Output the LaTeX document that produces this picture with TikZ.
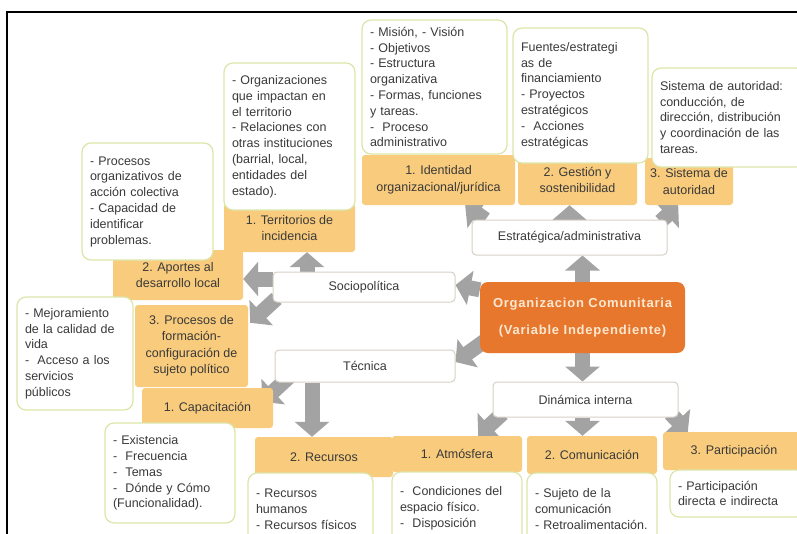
\documentclass[tikz,border=0pt]{standalone}
\usepackage{fontspec}
\setmainfont{Liberation Sans}
\usepackage{tikz}
\usetikzlibrary{arrows.meta}
\definecolor{notegreen}{HTML}{DCE5A8}
\definecolor{tagorange}{HTML}{F9CB7C}
\definecolor{coreorange}{HTML}{E8772E}
\definecolor{corecream}{HTML}{FCE8D0}
\definecolor{facetgray}{HTML}{D6D0C6}
\definecolor{arrowgray}{HTML}{A3A3A3}
\definecolor{inkgray}{HTML}{3A3A3A}
\pgfdeclarelayer{back}
\pgfsetlayers{back,main}
\tikzset{
notebox/.style={draw=notegreen,fill=white,line width=1.2pt,rounded corners=9pt,align=left,inner xsep=8pt,text=inkgray,font=\fontsize{12.5}{15.8}\selectfont},
tagbox/.style={fill=tagorange,rounded corners=3pt,align=center,inner sep=2pt,text=inkgray,font=\fontsize{12.5}{16.5}\selectfont},
facetbox/.style={draw=facetgray,fill=white,line width=1pt,rounded corners=4pt,text=inkgray,font=\fontsize{12.5}{15}\selectfont},
corebox/.style={fill=coreorange,rounded corners=8pt,align=center,text=corecream,font=\fontsize{13}{27}\selectfont\bfseries},
fatarrow/.style={draw=arrowgray,line width=15pt,-{Triangle[width=34pt,length=15pt]}}
}
\begin{document}
\begin{tikzpicture}[x=1pt,y=-1pt]
\useasboundingbox (0,0) rectangle (797,533);
\clip (0,0) rectangle (797,533);
\draw[line width=2.5pt] (7,540) -- (7,12) -- (800,12);

\node[tagbox,minimum width=131pt,minimum height=48pt] (terrTag) at (289.5,228) {1. Territorios de\\incidencia};
\node[tagbox,minimum width=153pt,minimum height=50pt] (idenTag) at (438.5,180) {1. Identidad\\organizacional/jurídica};
\node[tagbox,minimum width=119pt,minimum height=50pt] (gestTag) at (577.5,180) {2. Gestión y\\sostenibilidad};
\node[tagbox,minimum width=88pt,minimum height=47pt] (sistTag) at (689,181.5) {3. Sistema de\\autoridad};
\node[tagbox,minimum width=130pt,minimum height=50pt] (aporTag) at (178,275) {2. Aportes al\\desarrollo local};
\node[tagbox,minimum width=113pt,minimum height=82pt] (formTag) at (191.5,346) {3. Procesos de\\formación-\\configuración de\\sujeto político};
\node[tagbox,minimum width=131pt,minimum height=40pt] (capTag) at (207.5,408) {1. Capacitación};
\node[tagbox,minimum width=138pt,minimum height=40pt] (recTag) at (324,457) {2. Recursos};
\node[tagbox,minimum width=130pt,minimum height=36pt] (atmTag) at (457,454) {1. Atmósfera};
\node[tagbox,minimum width=130pt,minimum height=38pt] (comTag) at (592,455) {2. Comunicación};
\node[tagbox,minimum width=142pt,minimum height=38pt] (partTag) at (734,451) {3. Participación};

\node[notebox,minimum width=131pt,text width=115pt,minimum height=147pt] (terrNote) at (289.5,136.5) {- Organizaciones\\que impactan en\\el territorio\\- Relaciones con\\otras instituciones\\(barrial, local,\\entidades del\\estado).};
\node[notebox,minimum width=131pt,text width=115pt,minimum height=117pt] (procNote) at (147.5,201.5) {- Procesos\\organizativos de\\acción colectiva\\- Capacidad de\\identificar\\problemas.};
\node[notebox,minimum width=145pt,text width=129pt,minimum height=134pt] (idenNote) at (434.5,87) {- Misión, - Visión\\- Objetivos\\- Estructura\\organizativa\\- Formas, funciones\\y tareas.\\-\ \ Proceso\\administrativo};
\node[notebox,minimum width=135pt,text width=119pt,minimum height=135pt] (fuenNote) at (580.5,95.5) {Fuentes/estrategi\\as de\\financiamiento\\- Proyectos\\estratégicos\\-\ \ Acciones\\estratégicas};
\node[notebox,minimum width=153pt,text width=137pt,minimum height=99pt] (sistNote) at (728.5,117.5) {Sistema de autoridad:\\conducción, de\\dirección, distribución\\y coordinación de las\\tareas.};
\node[notebox,minimum width=116pt,text width=100pt,minimum height=113pt] (mejoNote) at (75,353.5) {- Mejoramiento\\de la calidad de\\vida\\-\ \ Acceso a los\\servicios\\públicos};
\node[notebox,minimum width=130pt,text width=114pt,minimum height=100pt] (existNote) at (170,473) {- Existencia\\-\ \ Frecuencia\\-\ \ Temas\\-\ \ Dónde y Cómo\\(Funcionalidad).};
\node[notebox,minimum width=125pt,text width=109pt,minimum height=72pt] (recNote) at (310.5,509) {- Recursos\\humanos\\- Recursos físicos};
\node[notebox,minimum width=130pt,text width=114pt,minimum height=73pt] (condNote) at (457,508.5) {-\ \ Condiciones del\\espacio físico.\\-\ \ Disposición};
\node[notebox,minimum width=130pt,text width=114pt,minimum height=72pt] (sujNote) at (592,509) {- Sujeto de la\\comunicación\\- Retroalimentación.};
\node[notebox,minimum width=135pt,text width=119pt,minimum height=47pt] (partNote) at (737.5,493.5) {- Participación\\directa e indirecta};

\node[facetbox,minimum width=195pt,minimum height=35pt] (estr) at (569.5,237.5) {Estratégica/administrativa};
\node[facetbox,minimum width=182pt,minimum height=30pt] (socio) at (364,287) {Sociopolítica};
\node[facetbox,minimum width=180pt,minimum height=32pt] (tecn) at (365,366) {Técnica};
\node[facetbox,minimum width=185pt,minimum height=35pt] (dinam) at (585.5,399.5) {Dinámica interna};
\node[corebox,minimum width=205pt,minimum height=71pt] (core) at (582.5,317.5) {\addfontfeature{LetterSpace=6}Organizacion Comunitaria\\\addfontfeature{LetterSpace=6}(Variable Independiente)};

\begin{pgfonlayer}{back}
\draw[fatarrow] (core.north) -- (core.north |- estr.south);
\draw[fatarrow] ([xshift=14pt]estr.north west) -- ([xshift=-50pt]idenTag.south east);
\draw[fatarrow] (estr.north) -- (estr.north |- gestTag.south);
\draw[fatarrow] ([xshift=-7pt,yshift=-2pt]estr.north east) -- ([xshift=-55pt]sistTag.south east);
\draw[fatarrow] ([yshift=-8pt]core.north west) -- ([yshift=2pt]socio.east);
\draw[fatarrow] ([xshift=6pt,yshift=13pt]core.south west) -- ([yshift=4pt]tecn.east);
\draw[fatarrow] (core.south) -- (core.south |- dinam.north);
\draw[fatarrow] ([xshift=10pt,yshift=4pt]dinam.south west) -- ([xshift=-44pt]atmTag.north east);
\draw[fatarrow] ([xshift=-3pt]dinam.south) -- ([xshift=-3pt]dinam.south |- comTag.north);
\draw[fatarrow] ([xshift=-8pt,yshift=4pt]dinam.south east) -- ([xshift=25pt]partTag.north west);
\draw[fatarrow] ([xshift=-57pt]socio.north) -- ([xshift=-57pt]socio.north |- terrTag.south);
\draw[fatarrow] ([yshift=8pt]socio.west) -- ([yshift=-4pt]aporTag.east);
\draw[fatarrow] ([xshift=4pt,yshift=4pt]socio.south west) -- ([xshift=2pt,yshift=-18pt]formTag.north east);
\draw[fatarrow] ([xshift=15pt,yshift=6pt]tecn.south west) -- ([xshift=-11pt,yshift=-14pt]capTag.north east);
\draw[fatarrow] ([xshift=-53pt]tecn.south) -- ([xshift=-53pt]tecn.south |- recTag.north);
\end{pgfonlayer}
\end{tikzpicture}
\end{document}
